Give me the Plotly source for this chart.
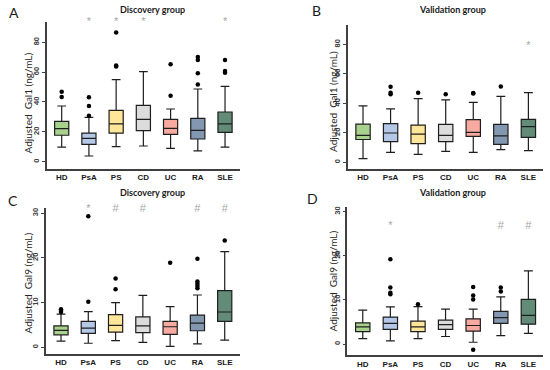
import plotly.graph_objects as go

categories = ["HD", "PsA", "PS", "CD", "UC", "RA", "SLE"]
colors = ["#a9d18e", "#b4c7e7", "#ffe699", "#dcdcdc", "#f8aaa0", "#8497b0", "#628c78"]

# Panel A: Gal1, discovery group
a_lo = [9.8, 3.8, 10.1, 10.5, 8.9, 7.2, 9.8]
a_q1 = [17.7, 11.6, 19.2, 20.8, 18.3, 15.2, 19.7]
a_med = [22.1, 15.6, 25.3, 28.4, 22.3, 21.0, 25.3]
a_q3 = [27.0, 19.2, 34.4, 37.8, 28.4, 29.0, 33.3]
a_hi = [37.3, 29.7, 55.0, 60.3, 35.3, 48.7, 50.5]
a_out = [[46.9, 43.4], [43.1, 37.3, 30.8], [86.5, 64.4, 63.7], [], [65.3, 44.2],
         [70.2, 68.2, 59.2, 51.8], [68.2, 60.8, 59.6]]
a_sig = ["", "*", "*", "*", "", "", "*"]

# Panel B: Gal1, validation group
b_lo = [2.5, 6.8, 5.4, 7.5, 6.8, 8.6, 7.9]
b_q1 = [15.5, 14.0, 12.7, 14.0, 17.6, 12.2, 17.0]
b_med = [18.3, 19.9, 19.2, 18.3, 20.3, 17.9, 24.2]
b_q3 = [25.9, 26.2, 25.3, 25.8, 28.9, 25.8, 29.2]
b_hi = [38.3, 36.2, 43.2, 42.3, 40.7, 44.7, 47.2]
b_out = [[], [51.3, 47.2, 46.1], [47.2], [46.2], [47.0, 46.6], [51.5], []]
b_sig = ["", "", "", "", "", "", "*"]

# Panel C: Gal9, discovery group
c_lo = [1.4, 0.9, 1.5, 1.1, 0.2, 0.75, 1.6]
c_q1 = [2.8, 3.1, 3.4, 3.3, 2.9, 3.7, 5.8]
c_med = [3.8, 4.3, 4.9, 4.8, 4.6, 5.4, 7.9]
c_q3 = [4.8, 5.8, 7.3, 6.8, 5.8, 7.2, 12.7]
c_hi = [7.4, 8.0, 10.0, 11.6, 9.1, 11.7, 21.4]
c_out = [[8.5, 8.2, 7.9], [29.3, 10.2], [15.4, 13.0], [], [18.9],
         [19.8, 14.7, 14.2, 13.7, 13.2], [23.9]]
c_sig = ["", "*", "#", "#", "", "#", "#"]

# Panel D: Gal9, validation group
d_lo = [1.2, 0.7, 1.2, 1.7, 0.4, 1.9, 2.4]
d_q1 = [2.8, 3.3, 2.8, 3.3, 2.9, 4.7, 4.5]
d_med = [3.9, 4.7, 3.9, 4.4, 4.2, 6.0, 6.5]
d_q3 = [4.8, 6.1, 5.2, 5.4, 5.7, 7.4, 10.1]
d_hi = [7.7, 8.4, 8.5, 7.9, 7.9, 10.7, 16.6]
d_out = [[], [19.2, 12.8, 11.6, 11.3], [9.0], [], [12.9, 11.0, 10.1, -1.3], [12.8, 11.9], []]
d_sig = ["", "*", "", "", "", "#", "#"]

panels = [
    dict(lo=a_lo, q1=a_q1, med=a_med, q3=a_q3, hi=a_hi, out=a_out, sig=a_sig, sig_y=93.5,
         xd=[47/550, 240/550], yd=[1-169/370, 1-22/370], xr=[-0.54, 6.55], yr=[-4.9, 93.6],
         ticks=[0, 20, 40, 60, 80], ytitle="Adjusted  Gal1 (ng/mL)"),
    dict(lo=b_lo, q1=b_q1, med=b_med, q3=b_q3, hi=b_hi, out=b_out, sig=b_sig, sig_y=79.0,
         xd=[348/550, 543/550], yd=[1-169/370, 1-25/370], xr=[-0.545, 6.53], yr=[-4.5, 93.1],
         ticks=[0, 20, 40, 60, 80], ytitle="Adjusted  Gal1 (ng/mL)"),
    dict(lo=c_lo, q1=c_q1, med=c_med, q3=c_q3, hi=c_hi, out=c_out, sig=c_sig, sig_y=30.8,
         xd=[46/550, 240/550], yd=[1-354/370, 1-208.3/370], xr=[-0.55, 6.56], yr=[-1.5, 31.1],
         ticks=[0, 10, 20, 30], ytitle="Adjusted  Gal9 (ng/mL)"),
    dict(lo=d_lo, q1=d_q1, med=d_med, q3=d_q3, hi=d_hi, out=d_out, sig=d_sig, sig_y=26.6,
         xd=[347.3/550, 543/550], yd=[1-355.3/370, 1-207.3/370], xr=[-0.56, 6.53], yr=[-2.56, 31.0],
         ticks=[0, 10, 20, 30], ytitle="Adjusted  Gal9 (ng/mL)"),
]

fig = go.Figure()
layout = {}
for i, p in enumerate(panels):
    n = "" if i == 0 else str(i + 1)
    xa, ya = "x" + n, "y" + n
    for j, cat in enumerate(categories):
        fig.add_trace(go.Box(
            x=[cat], q1=[p["q1"][j]], median=[p["med"][j]], q3=[p["q3"][j]],
            lowerfence=[p["lo"][j]], upperfence=[p["hi"][j]],
            fillcolor=colors[j], line=dict(color="#1e1e1e", width=1.2),
            width=0.52, whiskerwidth=0.62, boxpoints=False,
            xaxis=xa, yaxis=ya, showlegend=False, hoverinfo="skip"))
    ox, oy = [], []
    for j, cat in enumerate(categories):
        for v in p["out"][j]:
            ox.append(cat)
            oy.append(v)
    fig.add_trace(go.Scatter(x=ox, y=oy, mode="markers",
                             marker=dict(color="black", size=4.5),
                             xaxis=xa, yaxis=ya, showlegend=False, hoverinfo="skip"))
    sx = [c for c, s in zip(categories, p["sig"]) if s]
    st = [s for s in p["sig"] if s]
    fig.add_trace(go.Scatter(x=sx, y=[p["sig_y"]] * len(sx), mode="text", text=st,
                             textfont=dict(color="#a6a6a6", size=11, family="Liberation Sans"),
                             cliponaxis=False, xaxis=xa, yaxis=ya,
                             showlegend=False, hoverinfo="skip"))
    layout["xaxis" + n] = dict(
        domain=p["xd"], anchor=ya, type="category", categoryorder="array",
        categoryarray=categories, range=p["xr"], showline=True, linecolor="#404040",
        linewidth=1.5, showgrid=False, zeroline=False, ticks="", ticklen=0,
        tickfont=dict(family="Liberation Sans", size=8, color="#1a1a1a", weight="bold"),
        fixedrange=True)
    layout["yaxis" + n] = dict(
        domain=p["yd"], anchor=xa, range=p["yr"], tickvals=p["ticks"],
        showline=True, linecolor="#404040", linewidth=1.5, showgrid=False,
        zeroline=False, ticks="outside", ticklen=3, tickcolor="#404040", tickwidth=1,
        tickangle=-90,
        tickfont=dict(family="Liberation Sans", size=7.5, color="#404040", weight="bold"),
        fixedrange=True)

annotations = []
titles = [("Discovery group", 152, 9.5), ("Validation group", 452, 9.5),
          ("Discovery group", 152, 192.5), ("Validation group", 452, 192.5)]
for t, x, y in titles:
    annotations.append(dict(text=t, x=x/550, y=1-y/370, xref="paper", yref="paper",
                            showarrow=False, xanchor="center", yanchor="middle",
                            font=dict(family="Lato", size=9, color="#1a1a1a", weight="bold")))
letters = [("A", 13.5, 12), ("B", 316.5, 10.5), ("C", 13, 200), ("D", 312.5, 198.5)]
for t, x, y in letters:
    annotations.append(dict(text=t, x=x/550, y=1-y/370, xref="paper", yref="paper",
                            showarrow=False, xanchor="center", yanchor="middle",
                            font=dict(family="Lato", size=14, color="#1a1a1a")))
ytitles = [(panels[0]["ytitle"], 27.5, 103), (panels[1]["ytitle"], 333, 102),
           (panels[2]["ytitle"], 27.5, 283), (panels[3]["ytitle"], 332.5, 281)]
for t, x, y in ytitles:
    annotations.append(dict(text=t, x=x/550, y=1-y/370, xref="paper", yref="paper",
                            showarrow=False, xanchor="center", yanchor="middle",
                            textangle=-90,
                            font=dict(family="Lato", size=10, color="#262626")))

fig.update_layout(
    width=550, height=370, margin=dict(l=0, r=0, t=0, b=0),
    paper_bgcolor="white", plot_bgcolor="white",
    annotations=annotations, showlegend=False, **layout)

fig.write_html("out.html", config={"displayModeBar": False},
               post_script="document.body.style.margin='0';document.body.style.overflow='hidden';")
